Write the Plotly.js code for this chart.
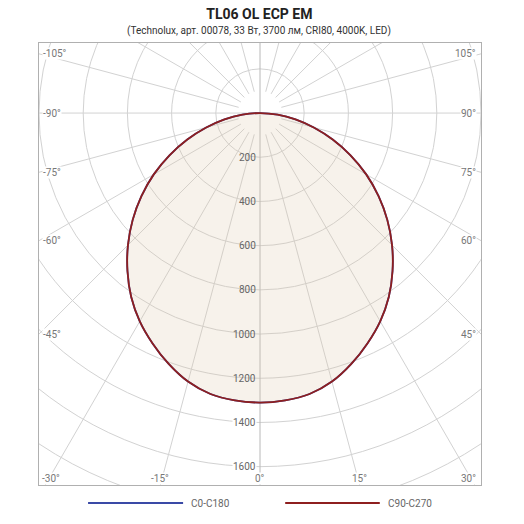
<!DOCTYPE html>
<html>
<head>
<meta charset="utf-8">
<script src="https://cdn.plot.ly/plotly-3.0.1.min.js"></script>
<style>html,body{margin:0;padding:0;background:#fff;}#chart{width:524px;height:524px;}</style>
</head>
<body>
<div id="chart"></div>
<script>
// Data (gamma angle in degrees from nadir, luminous intensity in cd)
const gammaAngles = [-90,-85,-80,-75,-70,-65,-60,-55,-50,-45,-40,-35,-30,-25,-20,-15,-10,-5,0,5,10,15,20,25,30,35,40,45,50,55,60,65,70,75,80,85,90];
const c0c180 = [0,80,163,252,350,452,555,655,752,845,933,1016,1088,1150,1208,1258,1291,1305,1310,1305,1291,1258,1208,1150,1088,1016,933,845,752,655,555,452,350,252,163,80,0];
const c90c270 = [0,80,163,252,350,452,555,655,752,845,933,1016,1088,1150,1208,1258,1291,1305,1310,1305,1291,1258,1208,1150,1088,1016,933,845,752,655,555,452,350,252,163,80,0];
const seriesNames = ['C0-C180','C90-C270'];
const seriesColors = ['#3a4aa6','#8e1f1f'];
const radialTicks = [200,400,600,800,1000,1200,1400,1600];
const gridRadii = [200,400,600,800,1000,1200,1400,1600,1800,2000];
const angleLabels = [-105,-90,-75,-60,-45,-30,-15,0,15,30,45,60,75,90,105];
const titleText = 'TL06 OL ECP EM';
const subtitleText = '(Technolux, арт. 00078, 33 Вт, 3700 лм, CRI80, 4000K, LED)';

const XR = [-1000, 1000];
const YR = [-1683, 317];
const rad = d => d * Math.PI / 180;
const toX = (a, r) => r * Math.sin(rad(a));
const toY = (a, r) => -r * Math.cos(rad(a));

const gridColor = '#d2d2d2';
const fillColor = 'rgba(222,200,172,0.24)';

function curveTrace(vals, name, color, fill) {
  return {
    type: 'scatter', mode: 'lines', name: name,
    x: gammaAngles.map((a, i) => toX(a, vals[i])),
    y: gammaAngles.map((a, i) => toY(a, vals[i])),
    line: {color: color, width: 1.8, shape: 'spline', smoothing: 1},
    fill: fill ? 'toself' : 'none',
    fillcolor: fillColor,
    hoverinfo: 'skip', showlegend: false
  };
}

const traces = [
  curveTrace(c0c180, seriesNames[0], seriesColors[0], true),
  curveTrace(c90c270, seriesNames[1], seriesColors[1], false)
];

const shapes = [];
gridRadii.forEach(r => shapes.push({
  type: 'circle', xref: 'x', yref: 'y', x0: -r, x1: r, y0: -r, y1: r,
  line: {color: gridColor, width: 1}, layer: 'below'
}));
for (let a = 0; a < 360; a += 15) {
  if (a % 90 === 0) continue;
  shapes.push({type: 'line', xref: 'x', yref: 'y',
    x0: toX(a, 100), y0: toY(a, 100), x1: toX(a, 3000), y1: toY(a, 3000),
    line: {color: gridColor, width: 1}, layer: 'below'});
}
shapes.push({type: 'line', xref: 'x', yref: 'y', x0: XR[0], x1: XR[1], y0: 0, y1: 0,
  line: {color: gridColor, width: 1}, layer: 'below'});
shapes.push({type: 'line', xref: 'x', yref: 'y', x0: 0, x1: 0, y0: YR[0], y1: YR[1],
  line: {color: '#b8b8b8', width: 1}, layer: 'below'});

// legend (manual, long lines)
const legendItems = [
  {x0: 0.111, x1: 0.326, tx: 0.340},
  {x0: 0.557, x1: 0.771, tx: 0.785}
];
const annotations = [];
legendItems.forEach((it, i) => {
  shapes.push({type: 'line', xref: 'paper', yref: 'paper', x0: it.x0, x1: it.x1, y0: -0.041, y1: -0.041,
    line: {color: seriesColors[i], width: 2}});
  annotations.push({xref: 'paper', yref: 'paper', x: it.tx, y: -0.041, xanchor: 'left', yanchor: 'middle',
    text: seriesNames[i], showarrow: false, font: {size: 10, color: '#666'}});
});

// radial value labels
radialTicks.forEach(v => {
  annotations.push({xref: 'x', yref: 'y', x: 0, y: -v, xanchor: 'right', yanchor: 'middle', xshift: -3,
    text: String(v), showarrow: false, font: {size: 10, color: '#666'},
    bgcolor: v < c0c180[gammaAngles.indexOf(0)] ? 'rgba(0,0,0,0)' : '#ffffff', borderpad: 0});
});

// angle labels on the frame
angleLabels.forEach(a => {
  const dx = Math.sin(rad(a)), dy = -Math.cos(rad(a));
  const tx = Math.abs(dx) > 1e-9 ? XR[1] / Math.abs(dx) : Infinity;
  const ty = dy < 0 ? -YR[0] / -dy : (dy > 0 ? YR[1] / dy : Infinity);
  const lab = (a < 0 ? '-' : '') + Math.abs(a) + '°';
  if (tx < ty) {
    const y = dy * tx;
    annotations.push({xref: 'x', yref: 'y', x: dx > 0 ? XR[1] : XR[0], y: y,
      xanchor: dx > 0 ? 'right' : 'left', yanchor: 'middle', xshift: dx > 0 ? -4 : 3,
      text: lab, showarrow: false, font: {size: 10, color: '#777'}, bgcolor: '#ffffff', borderpad: 0});
  } else {
    let x = dx * ty;
    x = Math.max(-945, Math.min(945, x));
    annotations.push({xref: 'x', yref: 'y', x: x, y: YR[0], xanchor: 'center', yanchor: 'middle', yshift: 7,
      text: lab, showarrow: false, font: {size: 10, color: '#777'}, bgcolor: '#ffffff', borderpad: 0});
  }
});

annotations.push({xref: 'paper', yref: 'paper', x: 0.497, y: (485 - 31) / 442, xanchor: 'center', yanchor: 'middle',
  text: subtitleText, showarrow: false, font: {size: 10, color: '#333'}});

const axisCommon = {showgrid: false, zeroline: false, showticklabels: false, ticks: '',
  showline: true, mirror: true, linecolor: '#b0b0b0', linewidth: 1, fixedrange: true};

const layout = {
  width: 524, height: 524,
  margin: {l: 39, r: 43, t: 43, b: 39},
  paper_bgcolor: '#ffffff', plot_bgcolor: '#ffffff',
  font: {family: 'Roboto, "Open Sans", sans-serif'},
  title: {text: '<b>' + titleText + '</b>', x: 0.495, xanchor: 'center', y: 1 - 14 / 524, yanchor: 'middle',
    font: {size: 14, color: '#222'}},
  xaxis: Object.assign({range: XR}, axisCommon),
  yaxis: Object.assign({range: YR}, axisCommon),
  shapes: shapes, annotations: annotations, showlegend: false
};

Plotly.newPlot('chart', traces, layout, {displayModeBar: false, staticPlot: true});
</script>
</body>
</html>
